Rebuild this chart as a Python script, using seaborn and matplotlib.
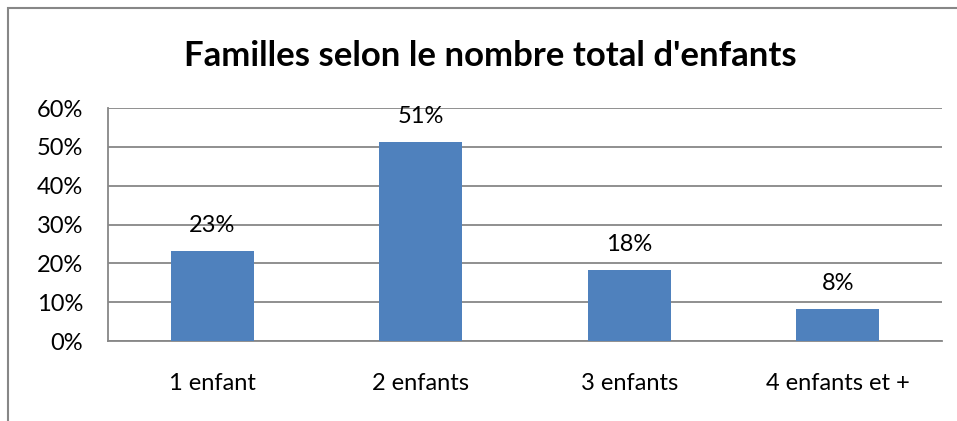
import numpy as np
import pandas as pd
import matplotlib
matplotlib.use('Agg')
import matplotlib.pyplot as plt
import seaborn as sns
from matplotlib.patches import Rectangle

categories = ['1 enfant', '2 enfants', '3 enfants', '4 enfants et +']
values = [23.2, 51.3, 18.2, 8.3]
labels = ['23%', '51%', '18%', '8%']
yticks = [0, 10, 20, 30, 40, 50, 60]

sns.set_style('white')
plt.rcParams['font.family'] = ['Lato', 'DejaVu Sans']
plt.rcParams['text.color'] = 'black'
plt.rcParams['xtick.color'] = 'black'
plt.rcParams['ytick.color'] = 'black'

df = pd.DataFrame({'cat': categories, 'val': values})

fig = plt.figure(figsize=(9.57, 4.21), dpi=100)
ax = fig.add_axes([108 / 957, 1 - 341 / 421, (942 - 108) / 957, (341 - 108) / 421])

sns.barplot(data=df, x='cat', y='val', color='#4F81BD', saturation=1, width=0.4,
            linewidth=0, ax=ax, zorder=3)

for i, (v, t) in enumerate(zip(values, labels)):
    ax.text(i, v + 6.6, t, ha='center', va='center', fontsize=17, color='black')

ax.set_ylim(0, 60)
ax.set_xlim(-0.5, 3.5)
ax.set_yticks(yticks)
ax.set_yticklabels([f'{y}%' for y in yticks], fontsize=17)
ax.yaxis.grid(True, color='#878787', linewidth=1.3, zorder=0)
ax.set_axisbelow(True)

# category labels between boundary ticks
ax.set_xticks([-0.5, 0.5, 1.5, 2.5, 3.5])
ax.set_xticklabels([])
ax.set_xticks(range(len(categories)), minor=True)
ax.set_xticklabels(categories, minor=True, fontsize=17)
ax.tick_params(axis='x', which='major', direction='out', length=6, width=1.3, color='#878787')
ax.tick_params(axis='x', which='minor', length=0, pad=23)
ax.tick_params(axis='y', direction='out', length=6, width=1.3, color='#878787', pad=12)
ax.set_xlabel('')
ax.set_ylabel('')

for s in ['top', 'right']:
    ax.spines[s].set_visible(False)
for s in ['left', 'bottom']:
    ax.spines[s].set_color('#878787')
    ax.spines[s].set_linewidth(1.3)

fig.text(490 / 957, 1 - 56 / 421, "Familles selon le nombre total d'enfants",
         ha='center', va='center', fontsize=25, fontweight='bold')

# chart area border (cut off at right/bottom like the source)
fig.patches.append(Rectangle((8 / 957, -0.1), 1.2, 1 - 8 / 421 + 0.1, transform=fig.transFigure,
                             fill=False, edgecolor='#878787', linewidth=1.5))

fig.savefig('out.png', dpi=100)
